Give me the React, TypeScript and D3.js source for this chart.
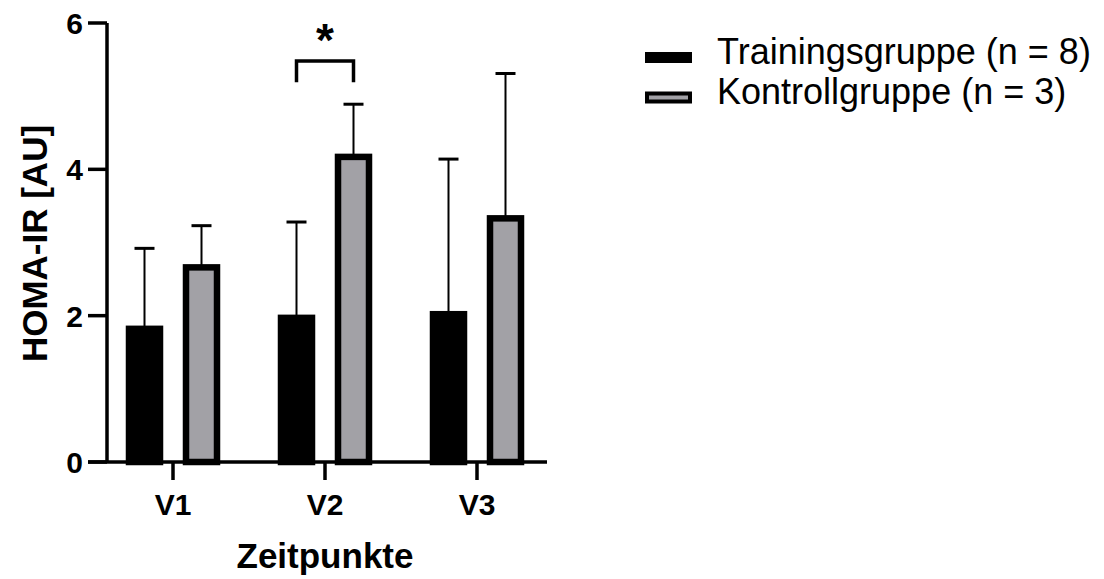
import { useRef, useEffect } from 'react';
import * as d3 from 'd3';

const W = 1104;
const H = 579;

const timepoints = ['V1', 'V2', 'V3'];
const groups = ['Trainingsgruppe (n = 8)', 'Kontrollgruppe (n = 3)'];
const trainingMean = [1.82, 1.97, 2.02];
const trainingSD = [1.10, 1.31, 2.12];
const controlMean = [2.66, 4.17, 3.33];
const controlSD = [0.57, 0.72, 1.98];
const yTicks = [0, 2, 4, 6];

const FONT = '"Liberation Sans", Arial, Helvetica, sans-serif';
const GRAY = '#a2a1a6';

export default function App() {
  const svgRef = useRef<SVGSVGElement | null>(null);

  useEffect(() => {
    if (!svgRef.current) return;
    const svg = d3.select(svgRef.current);
    svg.selectAll('*').remove();

    const y = d3.scaleLinear().domain([0, 6]).range([462, 23]);
    const x = d3.scaleBand().domain(timepoints).range([97, 553]).padding(0);
    const xSub = d3.scaleBand().domain(groups).range([-57, 57]).padding(0);
    const barW = 31;
    const center = (t: string) => (x(t) ?? 0) + x.bandwidth() / 2;
    const subCenter = (g: string) => (xSub(g) ?? 0) + xSub.bandwidth() / 2;

    const rows = timepoints.flatMap((t, i) => [
      { t, g: groups[0], mean: trainingMean[i], sd: trainingSD[i], fill: '#000' },
      { t, g: groups[1], mean: controlMean[i], sd: controlSD[i], fill: GRAY },
    ]);

    const g = svg.append('g');

    // error bars (upper only), drawn behind bars
    rows.forEach(r => {
      const cx = center(r.t) + subCenter(r.g);
      g.append('line')
        .attr('x1', cx).attr('x2', cx)
        .attr('y1', y(r.mean)).attr('y2', y(r.mean + r.sd))
        .attr('stroke', '#000').attr('stroke-width', 2);
      g.append('line')
        .attr('x1', cx - 10).attr('x2', cx + 10)
        .attr('y1', y(r.mean + r.sd)).attr('y2', y(r.mean + r.sd))
        .attr('stroke', '#000').attr('stroke-width', 3);
    });

    // bars
    rows.forEach(r => {
      const cx = center(r.t) + subCenter(r.g);
      g.append('rect')
        .attr('x', cx - barW / 2).attr('y', y(r.mean))
        .attr('width', barW).attr('height', y(0) - y(r.mean))
        .attr('fill', r.fill).attr('stroke', '#000').attr('stroke-width', 6.5);
    });

    // axes
    const axisColor = '#000';
    g.append('line')
      .attr('x1', 107).attr('x2', 107).attr('y1', y(6)).attr('y2', y(0))
      .attr('stroke', axisColor).attr('stroke-width', 3.5);
    g.append('line')
      .attr('x1', 88).attr('x2', 547).attr('y1', y(0)).attr('y2', y(0))
      .attr('stroke', axisColor).attr('stroke-width', 3.5);

    yTicks.forEach(v => {
      g.append('line')
        .attr('x1', 88).attr('x2', 107).attr('y1', y(v)).attr('y2', y(v))
        .attr('stroke', axisColor).attr('stroke-width', 3.5);
      g.append('text')
        .attr('x', 83).attr('y', y(v) + 11)
        .attr('text-anchor', 'end')
        .style('font-family', FONT).style('font-weight', 'bold').style('font-size', '30px')
        .text(v);
    });

    timepoints.forEach(t => {
      g.append('line')
        .attr('x1', center(t)).attr('x2', center(t)).attr('y1', y(0)).attr('y2', 480)
        .attr('stroke', axisColor).attr('stroke-width', 3.5);
      g.append('text')
        .attr('x', center(t)).attr('y', 515)
        .attr('text-anchor', 'middle')
        .style('font-family', FONT).style('font-weight', 'bold').style('font-size', '30px')
        .text(t);
    });

    g.append('text')
      .attr('x', center('V2')).attr('y', 568)
      .attr('text-anchor', 'middle')
      .style('font-family', FONT).style('font-weight', 'bold').style('font-size', '35px')
      .text('Zeitpunkte');

    g.append('text')
      .attr('transform', `translate(47,${y(3) + 1}) rotate(-90)`)
      .attr('text-anchor', 'middle')
      .style('font-family', FONT).style('font-weight', 'bold').style('font-size', '35px')
      .text('HOMA-IR [AU]');

    // significance bracket V2
    const bx1 = center('V2') + subCenter(groups[0]);
    const bx2 = center('V2') + subCenter(groups[1]);
    g.append('path')
      .attr('d', `M${bx1},${y(5.19)} V${y(5.48)} H${bx2} V${y(5.19)}`)
      .attr('fill', 'none').attr('stroke', '#000').attr('stroke-width', 3.5);
    g.append('text')
      .attr('x', center('V2')).attr('y', 56)
      .attr('text-anchor', 'middle')
      .style('font-family', FONT).style('font-weight', 'bold').style('font-size', '46px')
      .text('*');

    // legend
    const leg = svg.append('g').attr('transform', 'translate(645,0)');
    groups.forEach((name, i) => {
      const yy = 57.5 + i * 40;
      leg.append('rect')
        .attr('x', i === 0 ? 0 : 2).attr('y', i === 0 ? yy - 5.5 : yy - 4)
        .attr('width', i === 0 ? 47 : 43).attr('height', i === 0 ? 11 : 8)
        .attr('fill', i === 0 ? '#000' : GRAY)
        .attr('stroke', '#000').attr('stroke-width', i === 0 ? 0 : 4);
      leg.append('text')
        .attr('x', 72).attr('y', yy + 6 + i * 0.5)
        .style('font-family', FONT).style('font-size', '36px')
        .text(name);
    });
  }, []);

  return (
    <div style={{ position: 'absolute', left: 0, top: 0 }}>
      <svg ref={svgRef} width={W} height={H} style={{ display: 'block', background: '#fff' }} />
    </div>
  );
}
